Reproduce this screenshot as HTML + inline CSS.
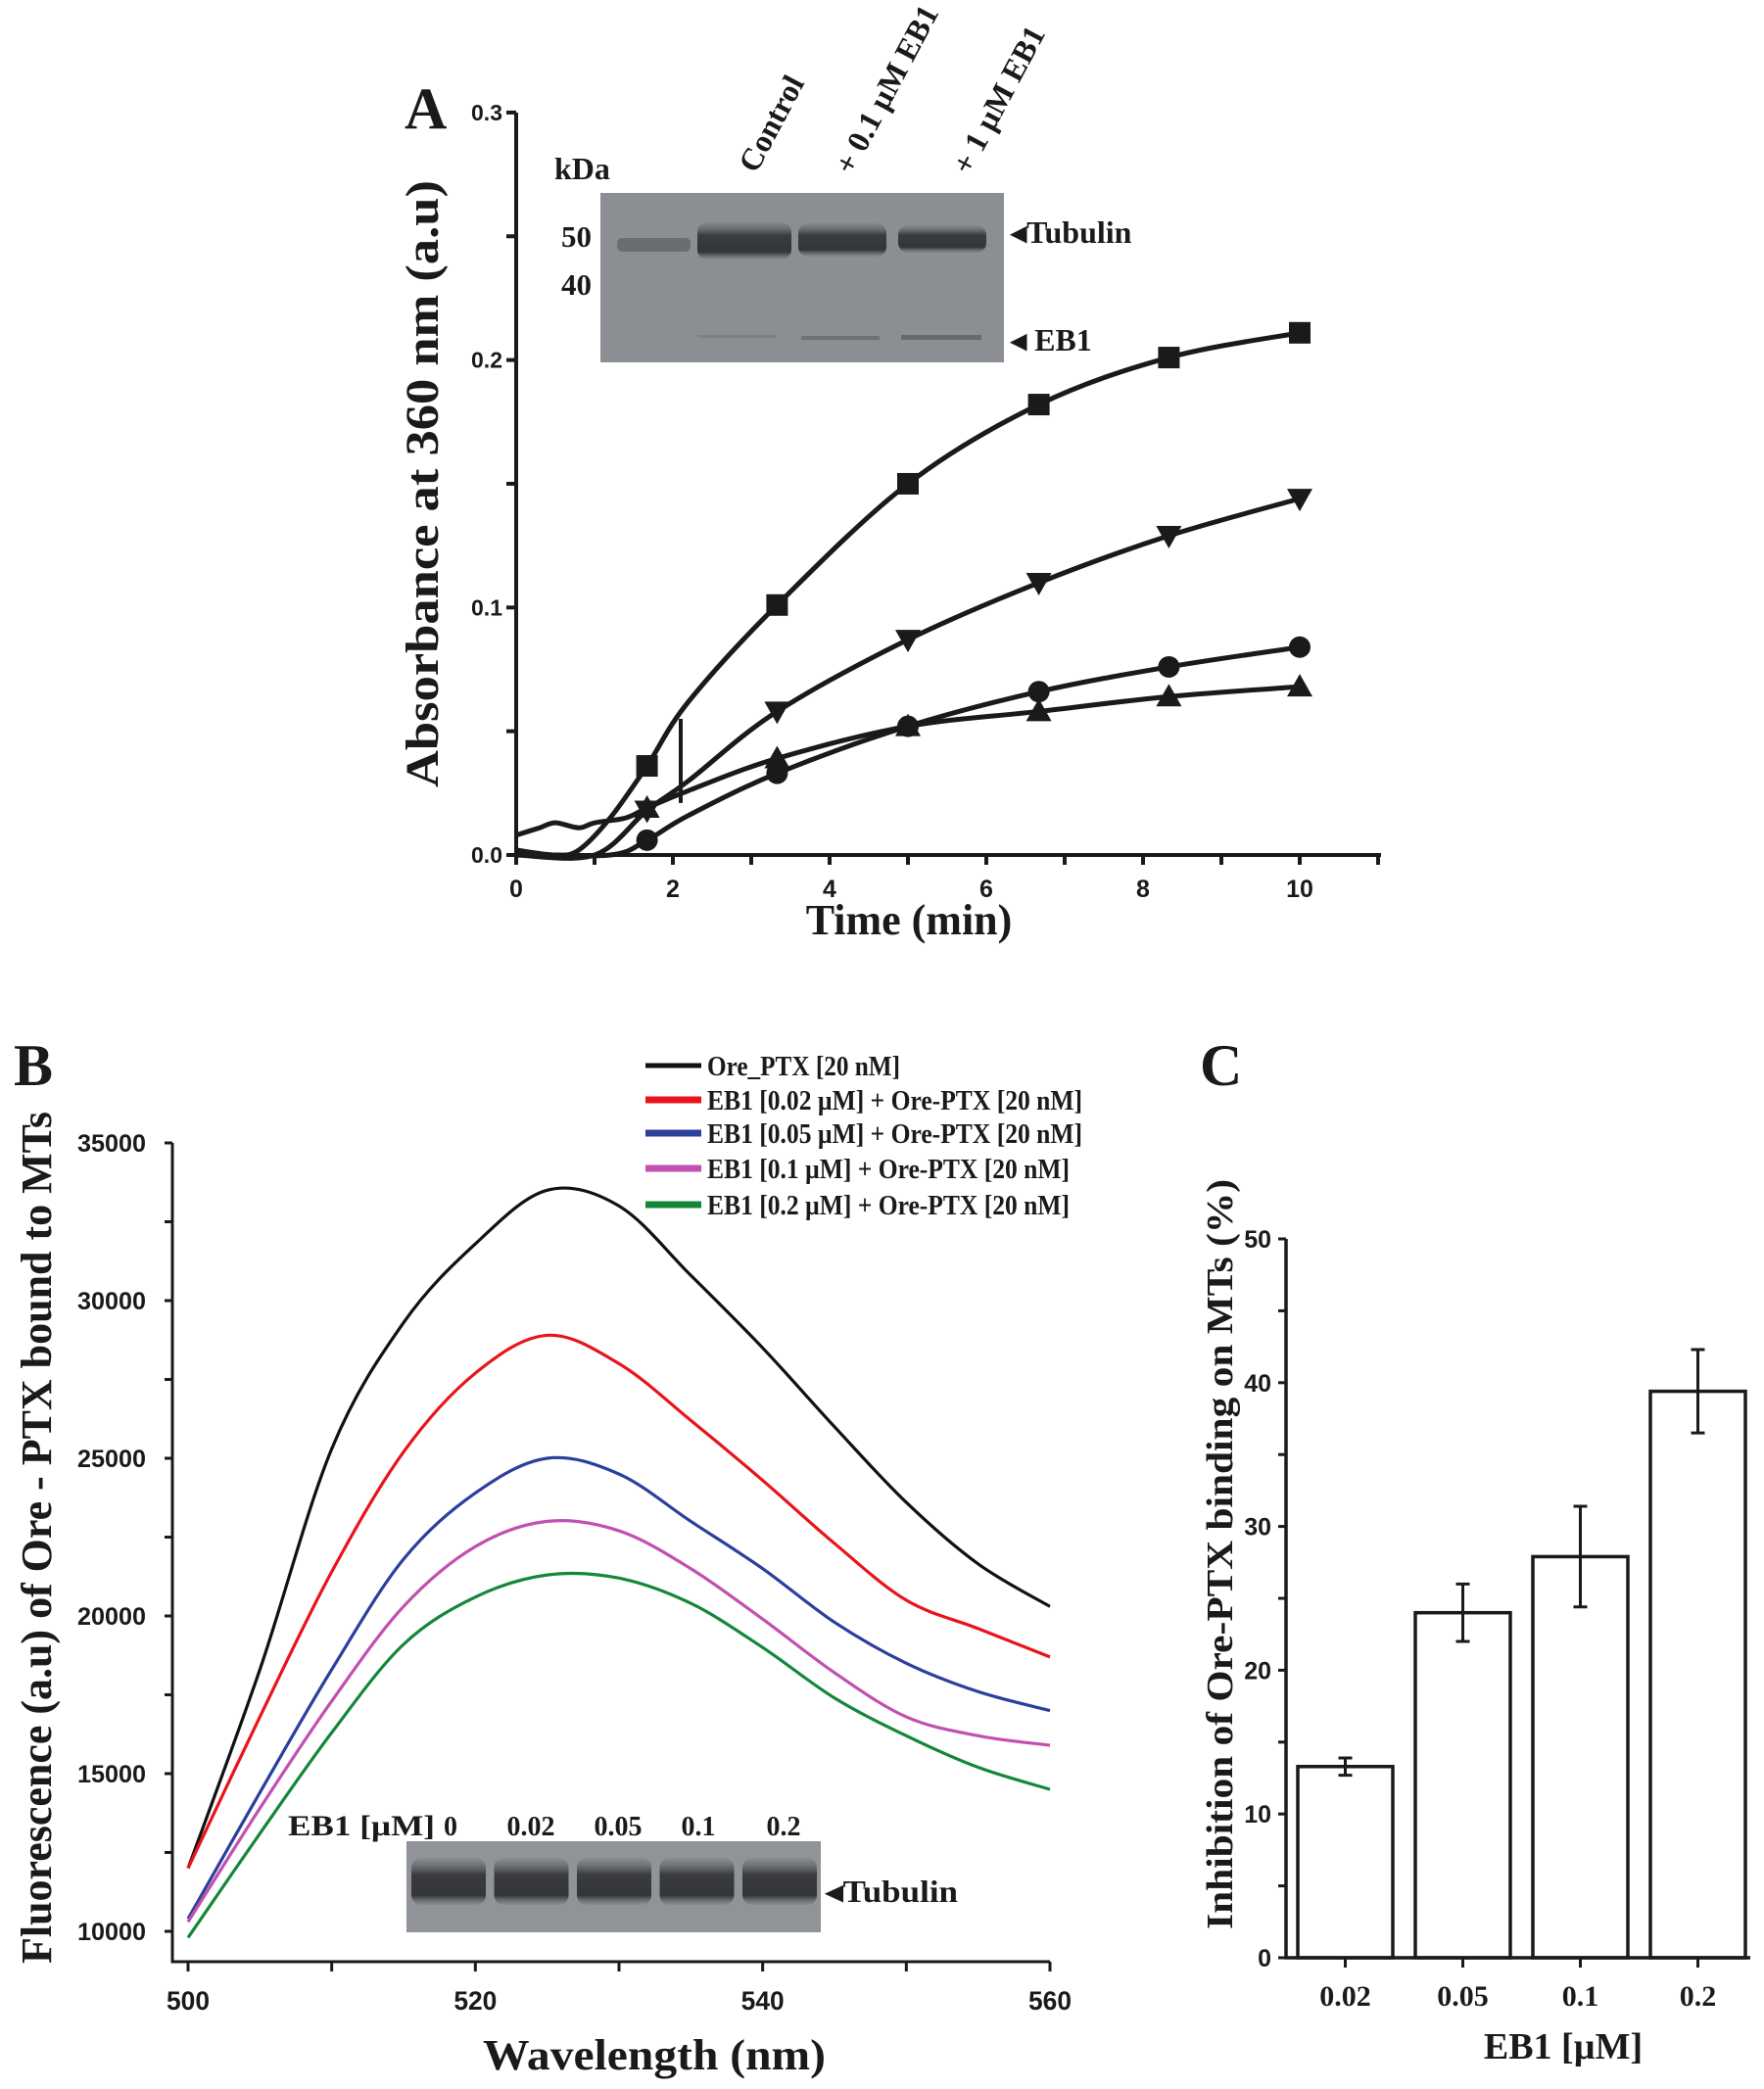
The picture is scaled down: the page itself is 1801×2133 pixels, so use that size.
<!DOCTYPE html>
<html><head><meta charset="utf-8"><style>
html,body{margin:0;padding:0;background:#fff}
svg{display:block}
text{font-family:"Liberation Serif",serif;font-weight:bold;fill:#1a1a1a}
.s{font-family:"Liberation Sans",sans-serif}
</style></head><body>
<svg id="fig" width="1801" height="2133" viewBox="0 0 1801 2133" xmlns="http://www.w3.org/2000/svg">
<defs>
<linearGradient id="band" x1="0" y1="0" x2="0" y2="1">
<stop offset="0" stop-color="#6a6d72" stop-opacity="0.2"/><stop offset="0.35" stop-color="#3a3c40"/><stop offset="0.8" stop-color="#333538"/><stop offset="1" stop-color="#6a6d72" stop-opacity="0.2"/>
</linearGradient>
</defs>
<g id="panelA"></g>
<g id="panelB"></g>
<g id="panelC"></g>
</svg>
<script>
// ---------- Panel A data ----------
const aTicksX = [0,2,4,6,8,10];
const aTicksY = [0.0,0.1,0.2,0.3];
const aTickLabelsY = ["0.0","0.1","0.2","0.3"];
const aMarkerT = [1.67,3.33,5,6.67,8.33,10];
const aSquare = [0.036,0.101,0.150,0.182,0.201,0.211];
const aDown = [0.018,0.058,0.087,0.110,0.129,0.144];
const aCircle = [0.006,0.033,0.052,0.066,0.076,0.084];
const aUp = [0.019,0.039,0.052,0.058,0.064,0.068];
const aSquareLineT = [0,0.5,0.8,1.2,1.67,2.2,3.33,5,6.67,8.33,10];
const aSquareLineV = [0.002,0,0.002,0.015,0.036,0.062,0.101,0.150,0.182,0.201,0.211];
const aDownLineT = [0,1,1.67,2.2,3.33,5,6.67,8.33,10];
const aDownLineV = [0,0,0.018,0.030,0.058,0.087,0.110,0.129,0.144];
const aCircleLineT = [0,1.2,1.67,2.2,3.33,5,6.67,8.33,10];
const aCircleLineV = [0,0,0.006,0.016,0.033,0.052,0.066,0.076,0.084];
const aUpLineT = [0,0.3,0.5,0.8,1,1.4,1.67,2.2,3.33,5,6.67,8.33,10];
const aUpLineV = [0.008,0.011,0.013,0.011,0.013,0.015,0.019,0.026,0.039,0.052,0.058,0.064,0.068];
// ---------- Panel B data ----------
const bWave = [500,505,510,515,520,525,530,535,540,545,550,555,560];
const bBlack = [12000,18300,25300,29300,31800,33500,33000,30800,28500,26000,23600,21650,20300];
const bRed = [12000,16800,21400,25200,27700,28900,28000,26200,24300,22300,20500,19600,18700];
const bBlue = [10400,14400,18300,21800,23900,25000,24500,23000,21500,19800,18500,17600,17000];
const bMagenta = [10300,13900,17300,20300,22200,23000,22700,21500,19900,18200,16800,16200,15900];
const bGreen = [9800,13100,16300,19100,20600,21300,21200,20400,19000,17400,16200,15200,14500];
const bTicksX = [500,520,540,560];
const bTicksY = [10000,15000,20000,25000,30000,35000];
const bLegend = ["Ore_PTX [20 nM]","EB1 [0.02 µM] + Ore-PTX [20 nM]","EB1 [0.05 µM] + Ore-PTX [20 nM]","EB1 [0.1 µM] + Ore-PTX [20 nM]","EB1 [0.2 µM] + Ore-PTX [20 nM]"];
// ---------- Panel C data ----------
const cCats = ["0.02","0.05","0.1","0.2"];
const cVals = [13.3,24.0,27.9,39.4];
const cErr = [0.6,2.0,3.5,2.9];
const cTicksY = [0,10,20,30,40,50];

const NS="http://www.w3.org/2000/svg";
function mk(parent,tag,attrs,text){const e=document.createElementNS(NS,tag);for(const k in attrs)e.setAttribute(k,attrs[k]);if(text!==undefined)e.textContent=text;parent.appendChild(e);return e;}
function smooth(pts){let d="M"+pts[0][0]+","+pts[0][1];for(let i=0;i<pts.length-1;i++){const p0=pts[Math.max(0,i-1)],p1=pts[i],p2=pts[i+1],p3=pts[Math.min(pts.length-1,i+2)];const c1x=p1[0]+(p2[0]-p0[0])/6,c1y=p1[1]+(p2[1]-p0[1])/6,c2x=p2[0]-(p3[0]-p1[0])/6,c2y=p2[1]-(p3[1]-p1[1])/6;d+=" C"+c1x+","+c1y+" "+c2x+","+c2y+" "+p2[0]+","+p2[1];}return d;}

// ===== Panel A =====
(function(){
const g=document.getElementById('panelA');
const X=t=>527+t*80, Y=v=>873-v*2527;
const gel=mk(g,'g',{});


mk(gel,'rect',{x:613,y:197,width:412,height:173,fill:'#8b8e92'});
mk(gel,'rect',{x:630,y:243,width:75,height:14,fill:'#6a6d71',rx:5});
mk(gel,'rect',{x:712,y:227,width:96,height:38,fill:'url(#band)',rx:10});
mk(gel,'rect',{x:815,y:228,width:90,height:34,fill:'url(#band)',rx:10});
mk(gel,'rect',{x:917,y:230,width:90,height:28,fill:'url(#band)',rx:10});
mk(gel,'rect',{x:818,y:343,width:80,height:4,fill:'#6e7175'});
mk(gel,'rect',{x:920,y:342,width:82,height:5,fill:'#66696d'});
mk(gel,'rect',{x:712,y:342,width:80,height:3,fill:'#7d8084'});
let t;
t=mk(g,'text',{x:566,y:183,'font-size':32},'kDa');
t=mk(g,'text',{x:573,y:252,'font-size':31},'50');
t=mk(g,'text',{x:573,y:301,'font-size':31},'40');
t=mk(g,'text',{x:1032,y:248,'font-size':32},'◂Tubulin');
t=mk(g,'text',{x:1032,y:358,'font-size':32},'◂ EB1');
const lanes=[["Control",772,178],["+ 0.1 µM EB1",870,180],["+ 1 µM EB1",990,180]];
lanes.forEach(l=>{const e=mk(g,'text',{x:l[1],y:l[2],'font-size':32,'font-weight':'normal',transform:'rotate(-62 '+l[1]+' '+l[2]+')'},l[0]);});
const ax=mk(g,'path',{d:`M${X(0)},${Y(0.3)} L${X(0)},${Y(0)} L1410,${Y(0)}`,stroke:'#1a1a1a','stroke-width':4,fill:'none'});

for(let v=0;v<=0.3001;v+=0.05){mk(g,'line',{x1:X(0)-10,x2:X(0),y1:Y(v),y2:Y(v),stroke:'#1a1a1a','stroke-width':4});}
aTicksY.forEach((v,i)=>{const e=mk(g,'text',{x:X(0)-14,y:Y(v)+8,'font-size':23,'text-anchor':'end',class:'s'},aTickLabelsY[i]);});
for(let tt=0;tt<=11;tt++){mk(g,'line',{x1:X(tt),x2:X(tt),y1:Y(0),y2:Y(0)+10,stroke:'#1a1a1a','stroke-width':4});}
aTicksX.forEach(v=>{const e=mk(g,'text',{x:X(v),y:Y(0)+43,'font-size':25,'text-anchor':'middle',class:'s'},String(v));});
t=mk(g,'text',{x:413,y:131,'font-size':60},'A');
t=mk(g,'text',{x:0,y:0,'font-size':48,'text-anchor':'middle',transform:'translate(447,494) rotate(-90)',textLength:620,lengthAdjust:'spacingAndGlyphs'},'Absorbance at 360 nm (a.u)');
t=mk(g,'text',{x:928,y:954,'font-size':44,'text-anchor':'middle'},'Time (min)');
const lines=[[aSquareLineT,aSquareLineV,'line-square'],[aDownLineT,aDownLineV,'line-triangle-down'],[aCircleLineT,aCircleLineV,'line-circle'],[aUpLineT,aUpLineV,'line-triangle-up']];
lines.forEach(L=>{const pts=L[0].map((tt,i)=>[X(tt),Y(L[1][i])]);const p=mk(g,'path',{d:smooth(pts),stroke:'#1a1a1a','stroke-width':5,fill:'none'});});
mk(g,'line',{x1:X(2.1),x2:X(2.1),y1:Y(0.055),y2:Y(0.021),stroke:'#1a1a1a','stroke-width':4});
aMarkerT.forEach((tt,i)=>{
 let x=X(tt),y;
 y=Y(aSquare[i]);let m=mk(g,'rect',{x:x-11,y:y-11,width:22,height:22,fill:'#1a1a1a'});
 y=Y(aDown[i]);m=mk(g,'polygon',{points:`${x-13},${y-10} ${x+13},${y-10} ${x},${y+13}`,fill:'#1a1a1a'});
 y=Y(aCircle[i]);m=mk(g,'circle',{cx:x,cy:y,r:11,fill:'#1a1a1a'});
 y=Y(aUp[i]);m=mk(g,'polygon',{points:`${x-13},${y+10} ${x+13},${y+10} ${x},${y-13}`,fill:'#1a1a1a'});
});
})();

// ===== Panel B =====
(function(){
const g=document.getElementById('panelB');
const X=w=>192+(w-500)*(880/60), Y=v=>1972-(v-10000)*0.0322;
let t;
const ax=mk(g,'path',{d:`M176,1167 L176,2003 L${X(560)},2003`,stroke:'#1a1a1a','stroke-width':3,fill:'none'});

for(let v=10000;v<=35000;v+=2500){mk(g,'line',{x1:168,x2:176,y1:Y(v),y2:Y(v),stroke:'#1a1a1a','stroke-width':3});}
bTicksY.forEach(v=>{const e=mk(g,'text',{x:149,y:Y(v)+9,'font-size':25,'text-anchor':'end',class:'s',textLength:70,lengthAdjust:'spacingAndGlyphs'},String(v));});
for(let w=500;w<=560;w+=10){mk(g,'line',{x1:X(w),x2:X(w),y1:2003,y2:2013,stroke:'#1a1a1a','stroke-width':3});}
bTicksX.forEach(v=>{const e=mk(g,'text',{x:X(v),y:2052,'font-size':27,'text-anchor':'middle',class:'s',textLength:44,lengthAdjust:'spacingAndGlyphs'},String(v));});
t=mk(g,'text',{x:14,y:1108,'font-size':60},'B');
t=mk(g,'text',{x:0,y:0,'font-size':44,'text-anchor':'middle',transform:'translate(52,1570) rotate(-90)',textLength:870,lengthAdjust:'spacingAndGlyphs'},'Fluorescence (a.u) of Ore - PTX bound to MTs');
t=mk(g,'text',{x:668,y:2113,'font-size':44,'text-anchor':'middle',textLength:350,lengthAdjust:'spacingAndGlyphs'},'Wavelength (nm)');
const gel=mk(g,'g',{});
mk(gel,'rect',{x:415,y:1880,width:423,height:93,fill:'#909397'});
for(let i=0;i<5;i++){mk(gel,'rect',{x:420+i*84.5,y:1897,width:76,height:48,fill:'url(#band)',rx:10});}
t=mk(g,'text',{x:294,y:1874,'font-size':30,textLength:150,lengthAdjust:'spacingAndGlyphs'},'EB1 [µM]');
const gl=[["0",460],["0.02",542],["0.05",631],["0.1",713],["0.2",800]];
gl.forEach(l=>{const e=mk(g,'text',{x:l[1],y:1874,'font-size':28,'text-anchor':'middle'},l[0]);});
t=mk(g,'text',{x:843,y:1942,'font-size':32,textLength:135,lengthAdjust:'spacingAndGlyphs'},'◂Tubulin');
const series=[[bBlack,'#111111','series-ore-ptx'],[bRed,'#e8141b','series-eb1-0.02'],[bBlue,'#2c3f9c','series-eb1-0.05'],[bMagenta,'#c150b0','series-eb1-0.1'],[bGreen,'#14873a','series-eb1-0.2']];
series.forEach(s=>{const pts=bWave.map((w,i)=>[X(w),Y(s[0][i])]);const p=mk(g,'path',{d:smooth(pts),stroke:s[1],'stroke-width':3.2,fill:'none'});});
const ly=[1088,1123,1157,1193,1230];
bLegend.forEach((txt,i)=>{const lg=mk(g,'g',{});
 mk(lg,'line',{x1:659,x2:716,y1:ly[i],y2:ly[i],stroke:series[i][1],'stroke-width':i==0?5:7});
 mk(lg,'text',{x:722,y:ly[i]+10,'font-size':29,textLength:i==0?197:(i==3||i==4?370:383),lengthAdjust:'spacingAndGlyphs'},txt);});
})();

// ===== Panel C =====
(function(){
const g=document.getElementById('panelC');
const Y=v=>1999-v*14.68;
const bx=[1325,1445,1565,1685], bw=97;
let t;
for(let v=0;v<=50;v+=5){mk(g,'line',{x1:1305,x2:1313,y1:Y(v),y2:Y(v),stroke:'#1a1a1a','stroke-width':3});}
cTicksY.forEach(v=>{const e=mk(g,'text',{x:1298,y:Y(v)+9,'font-size':25,'text-anchor':'end',class:'s'},String(v));});
cVals.forEach((v,i)=>{const x=bx[i];
 const b=mk(g,'rect',{x:x,y:Y(v),width:bw,height:Y(0)-Y(v),fill:'#fff',stroke:'#1a1a1a','stroke-width':3.5});
 const cx=x+bw/2;const eb=mk(g,'path',{d:`M${cx},${Y(v+cErr[i])} L${cx},${Y(v-cErr[i])} M${cx-7},${Y(v+cErr[i])} L${cx+7},${Y(v+cErr[i])} M${cx-7},${Y(v-cErr[i])} L${cx+7},${Y(v-cErr[i])}`,stroke:'#1a1a1a','stroke-width':3,fill:'none'});
 mk(g,'line',{x1:cx,x2:cx,y1:Y(0),y2:Y(0)+10,stroke:'#1a1a1a','stroke-width':3});
 const e=mk(g,'text',{x:cx,y:2048,'font-size':30,'text-anchor':'middle'},cCats[i]);});
const ax=mk(g,'path',{d:`M1313,${Y(50)} L1313,${Y(0)} L1787,${Y(0)}`,stroke:'#1a1a1a','stroke-width':3.5,fill:'none'});
t=mk(g,'text',{x:1225,y:1108,'font-size':60},'C');
t=mk(g,'text',{x:0,y:0,'font-size':38,'text-anchor':'middle',transform:'translate(1258,1587) rotate(-90)',textLength:766,lengthAdjust:'spacingAndGlyphs'},'Inhibition of  Ore-PTX binding on MTs (%)');
t=mk(g,'text',{x:1596,y:2102,'font-size':38,'text-anchor':'middle'},'EB1 [µM]');
})();
</script>
</body></html>
